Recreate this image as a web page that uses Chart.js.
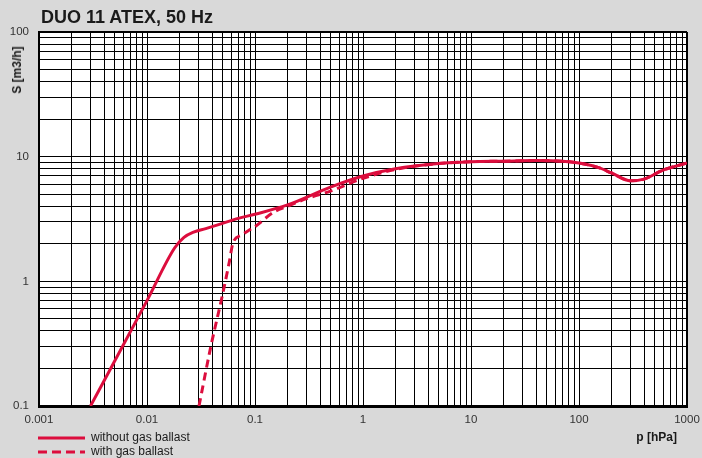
<!DOCTYPE html>
<html>
<head>
<meta charset="utf-8">
<script src="https://cdn.jsdelivr.net/npm/chart.js@4.4.1/dist/chart.umd.min.js"></script>
<style>
  html, body { margin: 0; padding: 0; background: #d9d9d9; }
  #wrap { position: relative; width: 702px; height: 458px; font-family: "Liberation Sans", Arial, sans-serif; }
  #wrap canvas { position: absolute; left: 0; top: 0; }
  .lbl { position: absolute; white-space: nowrap; color: #1a1a1a; }
  #title { left: 41px; top: 7px; font-size: 18px; font-weight: bold; line-height: 20px; }
  #ytitle { left: 17px; top: 70px; font-size: 12px; font-weight: bold; transform: translate(-50%, -50%) rotate(-90deg); }
  #xtitle { right: 25px; top: 430px; font-size: 12px; font-weight: bold; line-height: 14px; }
  .leg { left: 38px; font-size: 12px; line-height: 14px; }
  .leg svg { vertical-align: middle; margin-right: 6px; }
</style>
</head>
<body>
<div id="wrap">
  <canvas id="chart"></canvas>
  <div class="lbl" id="title">DUO 11 ATEX, 50 Hz</div>
  <div class="lbl" id="ytitle">S [m3/h]</div>
  <div class="lbl" id="xtitle">p [hPa]</div>
  <div class="lbl leg" style="top:430px"><svg width="47" height="4"><line x1="0" y1="2" x2="47" y2="2" stroke="#dc0d3d" stroke-width="3"/></svg>without gas ballast</div>
  <div class="lbl leg" style="top:444px"><svg width="47" height="4"><line x1="0" y1="2" x2="47" y2="2" stroke="#dc0d3d" stroke-width="3" stroke-dasharray="9,5"/></svg>with gas ballast</div>
</div>
<script>
// pressure p [hPa] and pumping speed S [m3/h]
var pressureNoBallast = [0.003, 0.01, 0.018, 0.022, 0.027, 0.035, 0.05, 0.07, 0.1, 0.2, 0.5, 1, 2, 5, 10, 20, 40, 70, 100, 150, 200, 300, 400, 600, 1000];
var speedNoBallast = [0.1, 0.70, 1.85, 2.25, 2.48, 2.65, 2.92, 3.2, 3.45, 4.1, 5.7, 7.0, 8.0, 8.8, 9.1, 9.2, 9.3, 9.2, 8.9, 8.2, 7.4, 6.4, 6.6, 7.8, 8.9];

var pressureBallast = [0.0303, 0.039, 0.05, 0.058, 0.0625, 0.075, 0.09, 0.1, 0.15, 0.2, 0.3, 0.5, 1, 2, 5, 10, 20, 40, 70, 100, 150, 200, 300, 400, 600, 1000];
var speedBallast = [0.1, 0.3, 0.78, 1.45, 2.03, 2.35, 2.6, 2.75, 3.6, 4.0, 4.6, 5.3, 6.7, 7.9, 8.8, 9.1, 9.2, 9.3, 9.2, 8.9, 8.2, 7.4, 6.4, 6.6, 7.8, 8.9];

var xTickValues = [0.001, 0.01, 0.1, 1, 10, 100, 1000];
var xTickLabels = ['0.001', '0.01', '0.1', '1', '10', '100', '1000'];
var yTickValues = [0.1, 1, 10, 100];
var yTickLabels = ['0.1', '1', '10', '100'];

var lineColour = '#dc0d3d';

function toPoints(xs, ys) {
    var pts = [];
    for (var i = 0; i < xs.length; i++) pts.push({x: xs[i], y: ys[i]});
    return pts;
}

// 1..9 x 10^n grid lines between min and max
function logGrid(min, max) {
    var ticks = [];
    for (var e = Math.round(Math.log10(min)); e < Math.round(Math.log10(max)); e++) {
        for (var m = 1; m < 10; m++) ticks.push({value: m * Math.pow(10, e)});
    }
    ticks.push({value: max});
    return ticks;
}

function labelFor(values, labels, v) {
    for (var i = 0; i < values.length; i++) {
        if (Math.abs(Math.log10(values[i]) - Math.log10(v)) < 1e-6) return labels[i];
    }
    return '';
}

var whiteArea = {
    id: 'whiteArea',
    beforeDraw: function(chart) {
        var a = chart.chartArea, c = chart.ctx;
        c.save();
        c.fillStyle = '#ffffff';
        c.fillRect(a.left, a.top, a.right - a.left, a.bottom - a.top);
        c.restore();
    }
};

var tickFont = {family: '"Liberation Sans", Arial, sans-serif', size: 11.5};

new Chart(document.getElementById('chart'), {
    type: 'line',
    data: {
        datasets: [{
            label: 'without gas ballast',
            data: toPoints(pressureNoBallast, speedNoBallast),
            borderColor: lineColour,
            borderWidth: 3,
            pointRadius: 0,
            cubicInterpolationMode: 'monotone'
        }, {
            label: 'with gas ballast',
            data: toPoints(pressureBallast, speedBallast),
            borderColor: lineColour,
            borderWidth: 3,
            borderDash: [8, 5],
            pointRadius: 0,
            cubicInterpolationMode: 'monotone'
        }]
    },
    options: {
        responsive: true,
        maintainAspectRatio: false,
        animation: false,
        layout: {padding: {top: 32, right: 15, bottom: 0, left: 0}},
        plugins: {legend: {display: false}, tooltip: {enabled: false}, title: {display: false}},
        scales: {
            x: {
                type: 'logarithmic',
                min: 0.001,
                max: 1000,
                afterBuildTicks: function(s) { s.ticks = logGrid(0.001, 1000); },
                afterFit: function(s) { s.height = 52; s.paddingLeft = 0; s.paddingRight = 0; },
                grid: {
                    color: '#000',
                    lineWidth: function(ctx) { return ctx.tick && ctx.tick.value >= 999 ? 2 : 1; },
                    drawTicks: false
                },
                border: {color: '#000', width: 3},
                ticks: {
                    autoSkip: false,
                    maxRotation: 0,
                    padding: 7,
                    color: '#333',
                    font: tickFont,
                    callback: function(v) { return labelFor(xTickValues, xTickLabels, v); }
                }
            },
            y: {
                type: 'logarithmic',
                min: 0.1,
                max: 100,
                afterBuildTicks: function(s) { s.ticks = logGrid(0.1, 100); },
                afterFit: function(s) { s.width = 39; s.paddingTop = 0; s.paddingBottom = 0; },
                grid: {
                    color: '#000',
                    lineWidth: function(ctx) { return ctx.tick && ctx.tick.value >= 99 ? 2 : 1; },
                    drawTicks: false
                },
                border: {color: '#000', width: 2},
                ticks: {
                    autoSkip: false,
                    padding: 10,
                    color: '#333',
                    font: tickFont,
                    callback: function(v) { return labelFor(yTickValues, yTickLabels, v); }
                }
            }
        }
    },
    plugins: [whiteArea]
});
</script>
</body>
</html>
